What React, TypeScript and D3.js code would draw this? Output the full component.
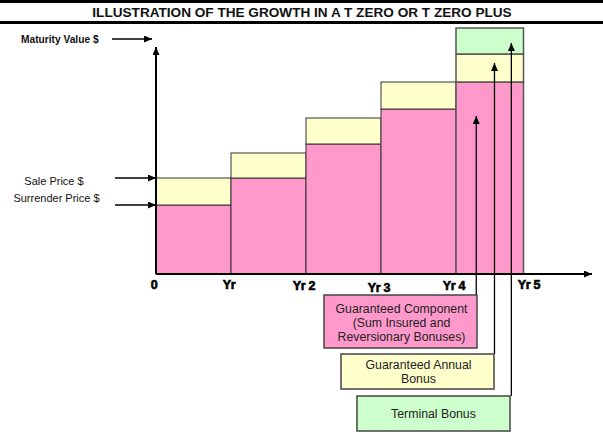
import React from "react";
import * as d3 from "d3";

const tickLabels = ["0", "Yr", "Yr 2", "Yr 3", "Yr 4", "Yr 5"];
const tickValues = [0, 1, 2, 3, 4, 5];
const barStart = [0, 1, 2, 3, 4];
const barEnd = [1, 2, 3, 4, 4.9];
const guaranteed = [69, 96, 130, 165, 192];
const annualBonus = [27, 25, 26, 27, 28];
const terminalBonus = [0, 0, 0, 0, 26];
const pointerTips = [158, 211, 231];
const pointerFrac = [0.3, 0.57, 0.82];

const FONT = "'Liberation Sans', Arial, Helvetica, sans-serif";
const PINK = "#FF99CC";
const YELLOW = "#FFFFCC";
const GREEN = "#CCFFCC";

export default function App() {
  const W = 603, H = 434;
  const x = d3.scaleLinear().domain([0, 5]).range([156, 531]);
  const y = d3.scaleLinear().domain([0, 250]).range([274, 24]);

  const bars = barStart.map((s, i) => {
    const g = guaranteed[i];
    const a = annualBonus[i];
    const t = terminalBonus[i];
    return { s, e: barEnd[i], g, a, t, i };
  });

  const last = bars[bars.length - 1];
  const lx0 = x(last.s), lx1 = x(last.e);
  const pointerX = pointerFrac.map((f) => lx0 + (lx1 - lx0) * f);

  const boxes = [
    { x0: 324, y0: 295, x1: 477, y1: 348, fill: PINK, lines: ["Guaranteed Component", "(Sum Insured and", "Reversionary Bonuses)"], ys: [313, 327, 341] },
    { x0: 341, y0: 354, x1: 494, y1: 389, fill: YELLOW, lines: ["Guaranteed Annual", "Bonus"], ys: [369, 383] },
    { x0: 357, y0: 396, x1: 510, y1: 431, fill: GREEN, lines: ["Terminal Bonus"], ys: [418] },
  ];
  const boxBottomY = [295, 354, 396];

  return (
    <div style={{ position: "absolute", left: 0, top: 0 }}>
      <svg width={W} height={H} viewBox={`0 0 ${W} ${H}`} style={{ display: "block", background: "#fff" }}>
        <defs>
          <marker id="ah" markerUnits="userSpaceOnUse" markerWidth="9" markerHeight="8" refX="8" refY="3.5" orient="auto">
            <path d="M0,0 L8,3.5 L0,7 Z" fill="#000" />
          </marker>
        </defs>
        <rect x={0} y={0} width={W} height={H} fill="#fff" />
        {/* header rules */}
        <line x1={0} x2={W} y1={1.5} y2={1.5} stroke="#000" strokeWidth={3} />
        <line x1={0} x2={W} y1={22.5} y2={22.5} stroke="#000" strokeWidth={3} />
        <text x={302} y={17} textAnchor="middle" fontFamily={FONT} fontWeight="bold" fontSize={13.6} fill="#111">
          ILLUSTRATION OF THE GROWTH IN A T ZERO OR T ZERO PLUS
        </text>

        {/* bars */}
        {bars.map((b) => {
          const bx = x(b.s), bw = x(b.e) - x(b.s);
          const isLast = b.i === bars.length - 1;
          const st = isLast ? "#555" : "#333";
          const sw = isLast ? 1.5 : 1;
          return (
            <g key={b.i}>
              <rect x={bx} y={y(b.g)} width={bw} height={y(0) - y(b.g)} fill={PINK} stroke={st} strokeWidth={sw} />
              <rect x={bx} y={y(b.g + b.a)} width={bw} height={y(b.g) - y(b.g + b.a)} fill={YELLOW} stroke={st} strokeWidth={sw} />
              {b.t > 0 && (
                <rect x={bx} y={y(b.g + b.a + b.t)} width={bw} height={y(b.g + b.a) - y(b.g + b.a + b.t)} fill={GREEN} stroke={st} strokeWidth={sw} />
              )}
            </g>
          );
        })}

        {/* axes */}
        <line x1={x(0)} y1={y(0)} x2={x(0)} y2={47} stroke="#000" strokeWidth={2} markerEnd="url(#ah)" />
        <line x1={x(0)} y1={y(0)} x2={592} y2={y(0)} stroke="#000" strokeWidth={2} markerEnd="url(#ah)" />

        {/* tick labels */}
        {tickValues.map((v, i) => (
          <text key={i} x={x(v) - 2} y={290 + (i === 3 ? 1.5 : i === 0 || i === 1 || i === 5 ? -1 : 0)} textAnchor="middle" fontFamily={FONT} fontWeight="bold" fontSize={12.5} letterSpacing={-0.3} stroke="#000" strokeWidth={0.6} fill="#000">
            {tickLabels[i]}
          </text>
        ))}

        {/* left labels & arrows */}
        <text x={21} y={43} fontFamily={FONT} fontWeight="bold" fontSize={10.2} fill="#111">Maturity Value $</text>
        <line x1={112} y1={39} x2={152} y2={39} stroke="#000" strokeWidth={1.5} markerEnd="url(#ah)" />
        <text x={54} y={185} textAnchor="middle" fontFamily={FONT} fontSize={11} fill="#111">Sale Price $</text>
        <text x={56.5} y={202} textAnchor="middle" fontFamily={FONT} fontSize={11} fill="#111">Surrender Price $</text>
        <line x1={115} y1={y(guaranteed[0] + annualBonus[0])} x2={156} y2={y(guaranteed[0] + annualBonus[0])} stroke="#000" strokeWidth={1.5} markerEnd="url(#ah)" />
        <line x1={115} y1={y(guaranteed[0])} x2={156} y2={y(guaranteed[0])} stroke="#000" strokeWidth={1.5} markerEnd="url(#ah)" />

        {/* pointer lines */}
        {pointerX.map((px, i) => (
          <line key={i} x1={px} y1={boxBottomY[i]} x2={px} y2={y(pointerTips[i])} stroke="#000" strokeWidth={1.3} markerEnd="url(#ah)" />
        ))}

        {/* legend boxes */}
        {boxes.map((b, i) => (
          <g key={i}>
            <rect x={b.x0} y={b.y0} width={b.x1 - b.x0} height={b.y1 - b.y0} fill={b.fill} stroke="#444" strokeWidth={1.5} />
            {b.lines.map((l, j) => (
              <text key={j} x={(b.x0 + b.x1) / 2 + (i === 2 ? 0 : 1)} y={b.ys[j]} textAnchor="middle" fontFamily={FONT} fontSize={12.3} fill="#222">
                {l}
              </text>
            ))}
          </g>
        ))}
      </svg>
    </div>
  );
}
